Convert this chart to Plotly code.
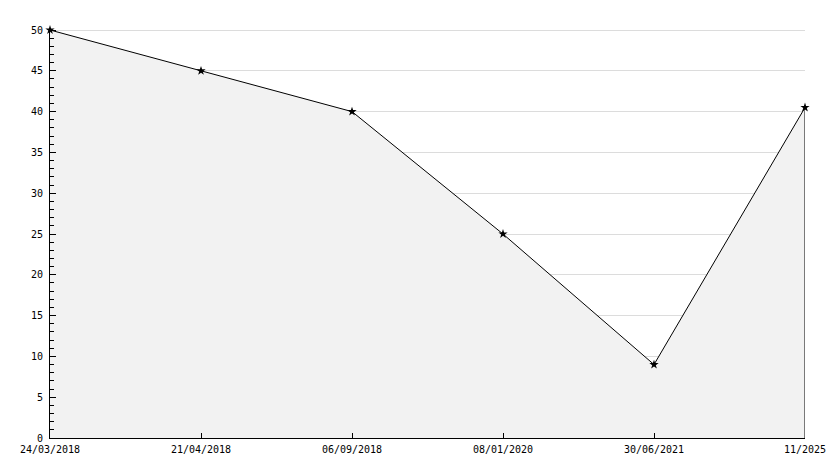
import plotly.graph_objects as go

categories = ["24/03/2018", "21/04/2018", "06/09/2018", "08/01/2020", "30/06/2021", "11/2025"]
values = [50, 45, 40, 25, 9, 40.5]

fig = go.Figure()
fig.add_trace(go.Scatter(
    x=categories, y=values, mode="lines+markers",
    fill="tozeroy", fillcolor="#f2f2f2",
    line=dict(color="black", width=1),
    marker=dict(symbol="star", size=7, color="black"),
    cliponaxis=False, showlegend=False,
))
# right edge outline of the filled area
fig.add_trace(go.Scatter(
    x=[categories[-1], categories[-1]], y=[0, values[-1]], mode="lines",
    line=dict(color="black", width=1), showlegend=False, hoverinfo="skip",
))

font = dict(family="DejaVu Sans Mono", size=10, color="black")
# page body has an 8px margin, so the figure is sized/offset to compensate
fig.update_layout(
    width=826, height=460,
    margin=dict(l=42, r=29, t=20, b=30),
    paper_bgcolor="white", plot_bgcolor="white",
    font=font,
    xaxis=dict(
        type="category", range=[0, len(categories) - 1], automargin=False,
        showgrid=False, showline=True, linecolor="black", linewidth=1,
        ticks="inside", ticklen=5, tickcolor="black", tickfont=font,
        ticklabelstandoff=2,
        zeroline=False,
    ),
    yaxis=dict(
        range=[0, 50 * 410 / 408], dtick=5, tick0=0, automargin=False,
        showgrid=True, gridcolor="#dcdcdc", gridwidth=1,
        showline=True, linecolor="black", linewidth=1,
        ticks="inside", ticklen=6, tickcolor="black", tickfont=font,
        ticklabelstandoff=4,
        minor=dict(dtick=1, ticks="inside", ticklen=4, tickcolor="black", showgrid=False),
        zeroline=False,
    ),
)
fig.write_html("out.html")
